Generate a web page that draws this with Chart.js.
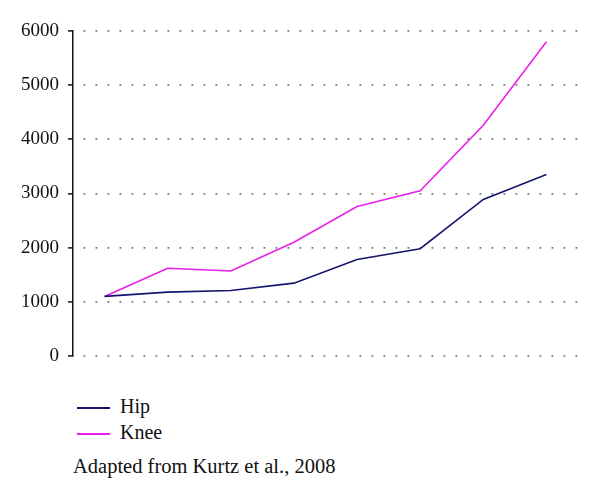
<!DOCTYPE html>
<html>
<head>
<meta charset="utf-8">
<script src="https://cdn.jsdelivr.net/npm/chart.js@4"></script>
<style>
  html, body { margin: 0; padding: 0; background: #fff; }
  #wrap { position: relative; width: 600px; height: 500px; font-family: 'Liberation Serif', serif; color: #111; }
  #box { position: absolute; left: 0; top: 0; width: 600px; height: 380px; }
  .leg { position: absolute; left: 77px; font-size: 20px; line-height: 20px; }
  .leg span.sw { display: inline-block; width: 33px; height: 0; border-top: 2px solid; vertical-align: middle; margin-right: 10px; }
  #note { position: absolute; left: 73px; top: 455px; font-size: 20.5px; }
</style>
</head>
<body>
<div id="wrap">
  <div id="box"><canvas id="chart"></canvas></div>
  <div id="legend"></div>
  <div id="note">Adapted from Kurtz et al., 2008</div>
</div>
<script>
// ---- data ----
const points = ['1', '2', '3', '4', '5', '6', '7', '8'];
const hip  = [1100, 1180, 1210, 1345, 1780, 1980, 2890, 3350];
const knee = [1100, 1620, 1570, 2100, 2760, 3050, 4260, 5800];
const yTicks = [0, 1000, 2000, 3000, 4000, 5000, 6000];

const series = [
    { label: 'Hip',  data: hip,  color: '#15156e' },
    { label: 'Knee', data: knee, color: '#ec1eec' }
];

const chart = new Chart(document.getElementById('chart'), {
    type: 'line',
    data: {
        labels: points,
        datasets: series.map(s => ({
            label: s.label,
            data: s.data,
            borderColor: s.color,
            backgroundColor: s.color,
            borderWidth: 1.6,
            pointRadius: 0,
            tension: 0
        }))
    },
    options: {
        responsive: true,
        maintainAspectRatio: false,
        animation: false,
        layout: { padding: { top: 31, right: 22, bottom: 24, left: 0 } },
        plugins: { legend: { display: false }, tooltip: { enabled: false } },
        scales: {
            x: { display: false, offset: true },
            y: {
                min: 0, max: 6000,
                afterFit: axis => { axis.width = 73; },
                afterBuildTicks: axis => { axis.ticks = yTicks.map(v => ({ value: v })); },
                ticks: {
                    color: '#111', padding: 9,
                    font: { family: "'Liberation Serif', serif", size: 19 },
                    callback: v => String(v)
                },
                grid: {
                    color: '#777', lineWidth: 1.8,
                    tickLength: 5, tickColor: '#111', tickWidth: 1.5
                },
                border: { color: '#111', width: 1.5, dash: [1.8, 10.2], dashOffset: 2 }
            }
        }
    }
});

// ---- legend below the plot ----
const legend = document.getElementById('legend');
series.forEach((s, i) => {
    const d = document.createElement('div');
    d.className = 'leg';
    d.style.top = (396 + i * 26) + 'px';
    d.innerHTML = '<span class="sw" style="border-color:' + s.color + '"></span>' + s.label;
    legend.appendChild(d);
});
</script>
</body>
</html>
